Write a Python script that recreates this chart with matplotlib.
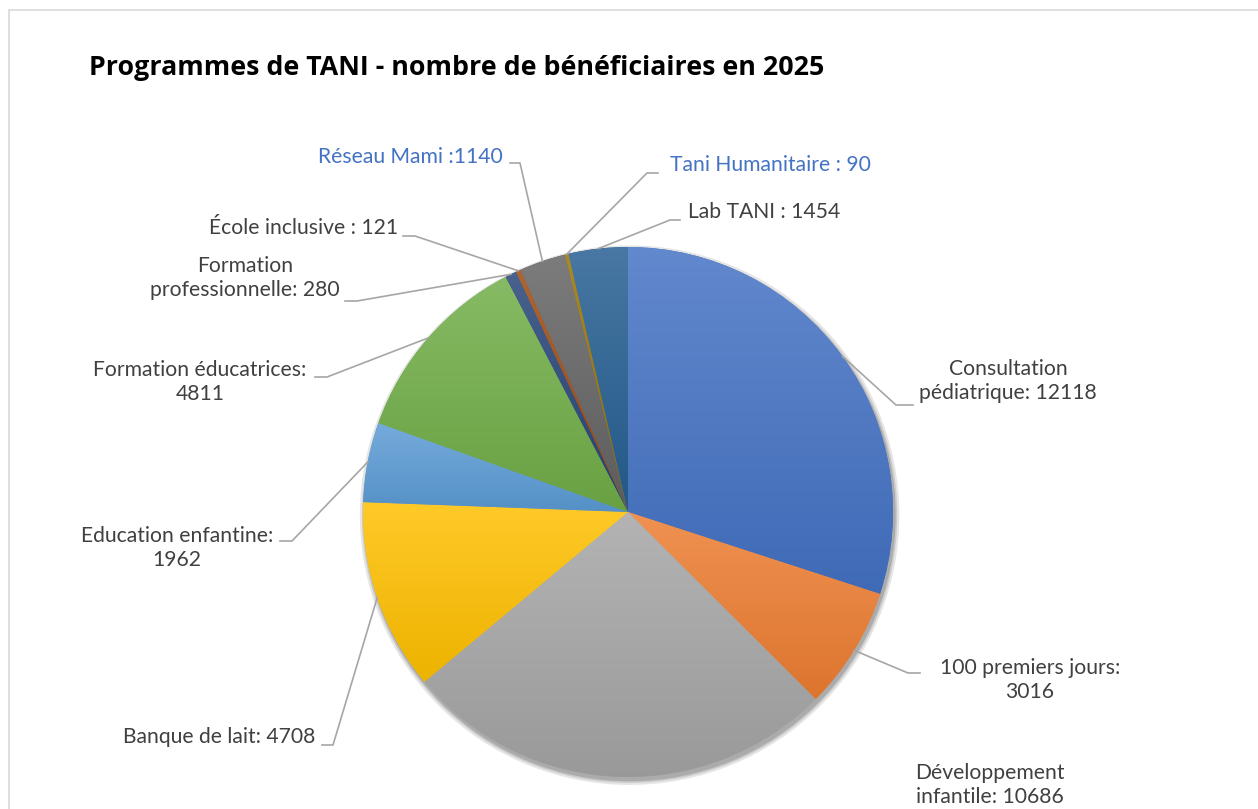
import numpy as np
import matplotlib
matplotlib.use("Agg")
import matplotlib.pyplot as plt
from matplotlib.patches import Wedge, Circle, Rectangle
from matplotlib.colors import to_rgb

plt.rcParams['font.family'] = ['Lato', 'DejaVu Sans']

# data, clockwise from 12 o'clock
programmes = ["Consultation pédiatrique", "100 premiers jours", "Développement infantile",
              "Banque de lait", "Education enfantine", "Formation éducatrices",
              "Formation professionnelle", "École inclusive", "Réseau Mami",
              "Tani Humanitaire", "Lab TANI"]
beneficiaires = [12118, 3016, 10686, 4708, 1962, 4811, 280, 121, 1140, 90, 1454]
label_texts = ["Consultation\npédiatrique: 12118", "100 premiers jours:\n3016",
               "Développement\ninfantile: 10686", "Banque de lait: 4708",
               "Education enfantine:\n1962", "Formation éducatrices:\n4811",
               "Formation\nprofessionnelle: 280", "École inclusive : 121",
               "Réseau Mami :1140", "Tani Humanitaire : 90", "Lab TANI : 1454"]

colors = ["#4472C4", "#ED7D31", "#A5A5A5", "#FFC000", "#5B9BD5", "#70AD47",
          "#264478", "#9E480E", "#636363", "#997300", "#255E91"]
label_colors = ["#404040"] * 8 + ["#4472C4", "#4472C4", "#404040"]

# layout in pixels: text center, leader start, leader elbow (None = no leader)
W, H = 1258, 809
cx, cy, R = 628, 512, 265
text_pos = [(1008, 381), (1030, 680), (990, 785), (219, 737), (177, 548), (200, 382),
            (245, 278), (304, 228), (410, 157), (770, 165), (764, 212)]
lead_start = [(913, 405), (920, 673), None, (322, 745), (280, 541), (315, 377),
              (345, 301), (403, 236), (510, 163), (658, 173), (680, 220)]
lead_elbow = [(896, 405), (908, 673), None, (333, 745), (292, 541), (327, 377),
              (357, 301), (415, 236), (520, 163), (647, 173), (670, 220)]


def px(p):
    return ((p[0] - cx) / R, (cy - p[1]) / R)


fig = plt.figure(figsize=(W / 100, H / 100), dpi=100)
ax = fig.add_axes([0, 0, 1, 1])
ax.set_xlim(-cx / R, (W - cx) / R)
ax.set_ylim(-(H - cy) / R, cy / R)
ax.axis('off')

fig.patches.append(Rectangle((9 / W, -0.1), 1.2, 1.1 - 10 / H, transform=fig.transFigure,
                             fill=False, edgecolor="#D9D9D9", linewidth=1.2))

# soft shadow
for k, a in [(0.018, 0.10), (0.010, 0.12), (0.004, 0.15)]:
    ax.add_patch(Circle((0.006, -0.012), 1 + k, facecolor="black", alpha=a, linewidth=0))

total = sum(beneficiaires)
grad = np.linspace(0, 1, 256).reshape(-1, 1)
start = 90.0
mids = []
for val, col in zip(beneficiaires, colors):
    sweep = val / total * 360
    t1, t2 = start - sweep, start
    w = Wedge((0, 0), 1, t1, t2, facecolor=col, linewidth=0)
    ax.add_patch(w)
    ext = w.get_path().get_extents()
    base = np.array(to_rgb(col))
    top = base + (1 - base) * 0.16
    bot = base * 0.93
    img = top[None, :] * (1 - grad) + bot[None, :] * grad
    im = ax.imshow(img[:, None, :].repeat(2, axis=1),
                   extent=(ext.x0, ext.x1, ext.y0, ext.y1),
                   origin='upper', aspect='auto', interpolation='bilinear', zorder=2)
    im.set_clip_path(w)
    mids.append(np.deg2rad((t1 + t2) / 2))
    start = t1

ax.set_xlim(-cx / R, (W - cx) / R)
ax.set_ylim(-(H - cy) / R, cy / R)

for i, txt in enumerate(label_texts):
    tx, ty = px(text_pos[i])
    ax.text(tx, ty, txt, ha='center', va='center', multialignment='center',
            fontsize=15.2, color=label_colors[i], linespacing=1.3, zorder=5)
    if lead_start[i] is not None:
        ex, ey = np.cos(mids[i]), np.sin(mids[i])
        sx, sy = px(lead_start[i])
        bx, by = px(lead_elbow[i])
        ax.plot([sx, bx, ex], [sy, by, ey], color="#A6A6A6", linewidth=1.2, zorder=4)

fig.text(89 / W, 1 - 68 / H, "Programmes de TANI - nombre de bénéficiaires en 2025",
         ha='left', va='center', fontsize=19.3, fontweight='bold', color='black',
         family=['Open Sans', 'DejaVu Sans'])

fig.savefig("out.png", dpi=100)
